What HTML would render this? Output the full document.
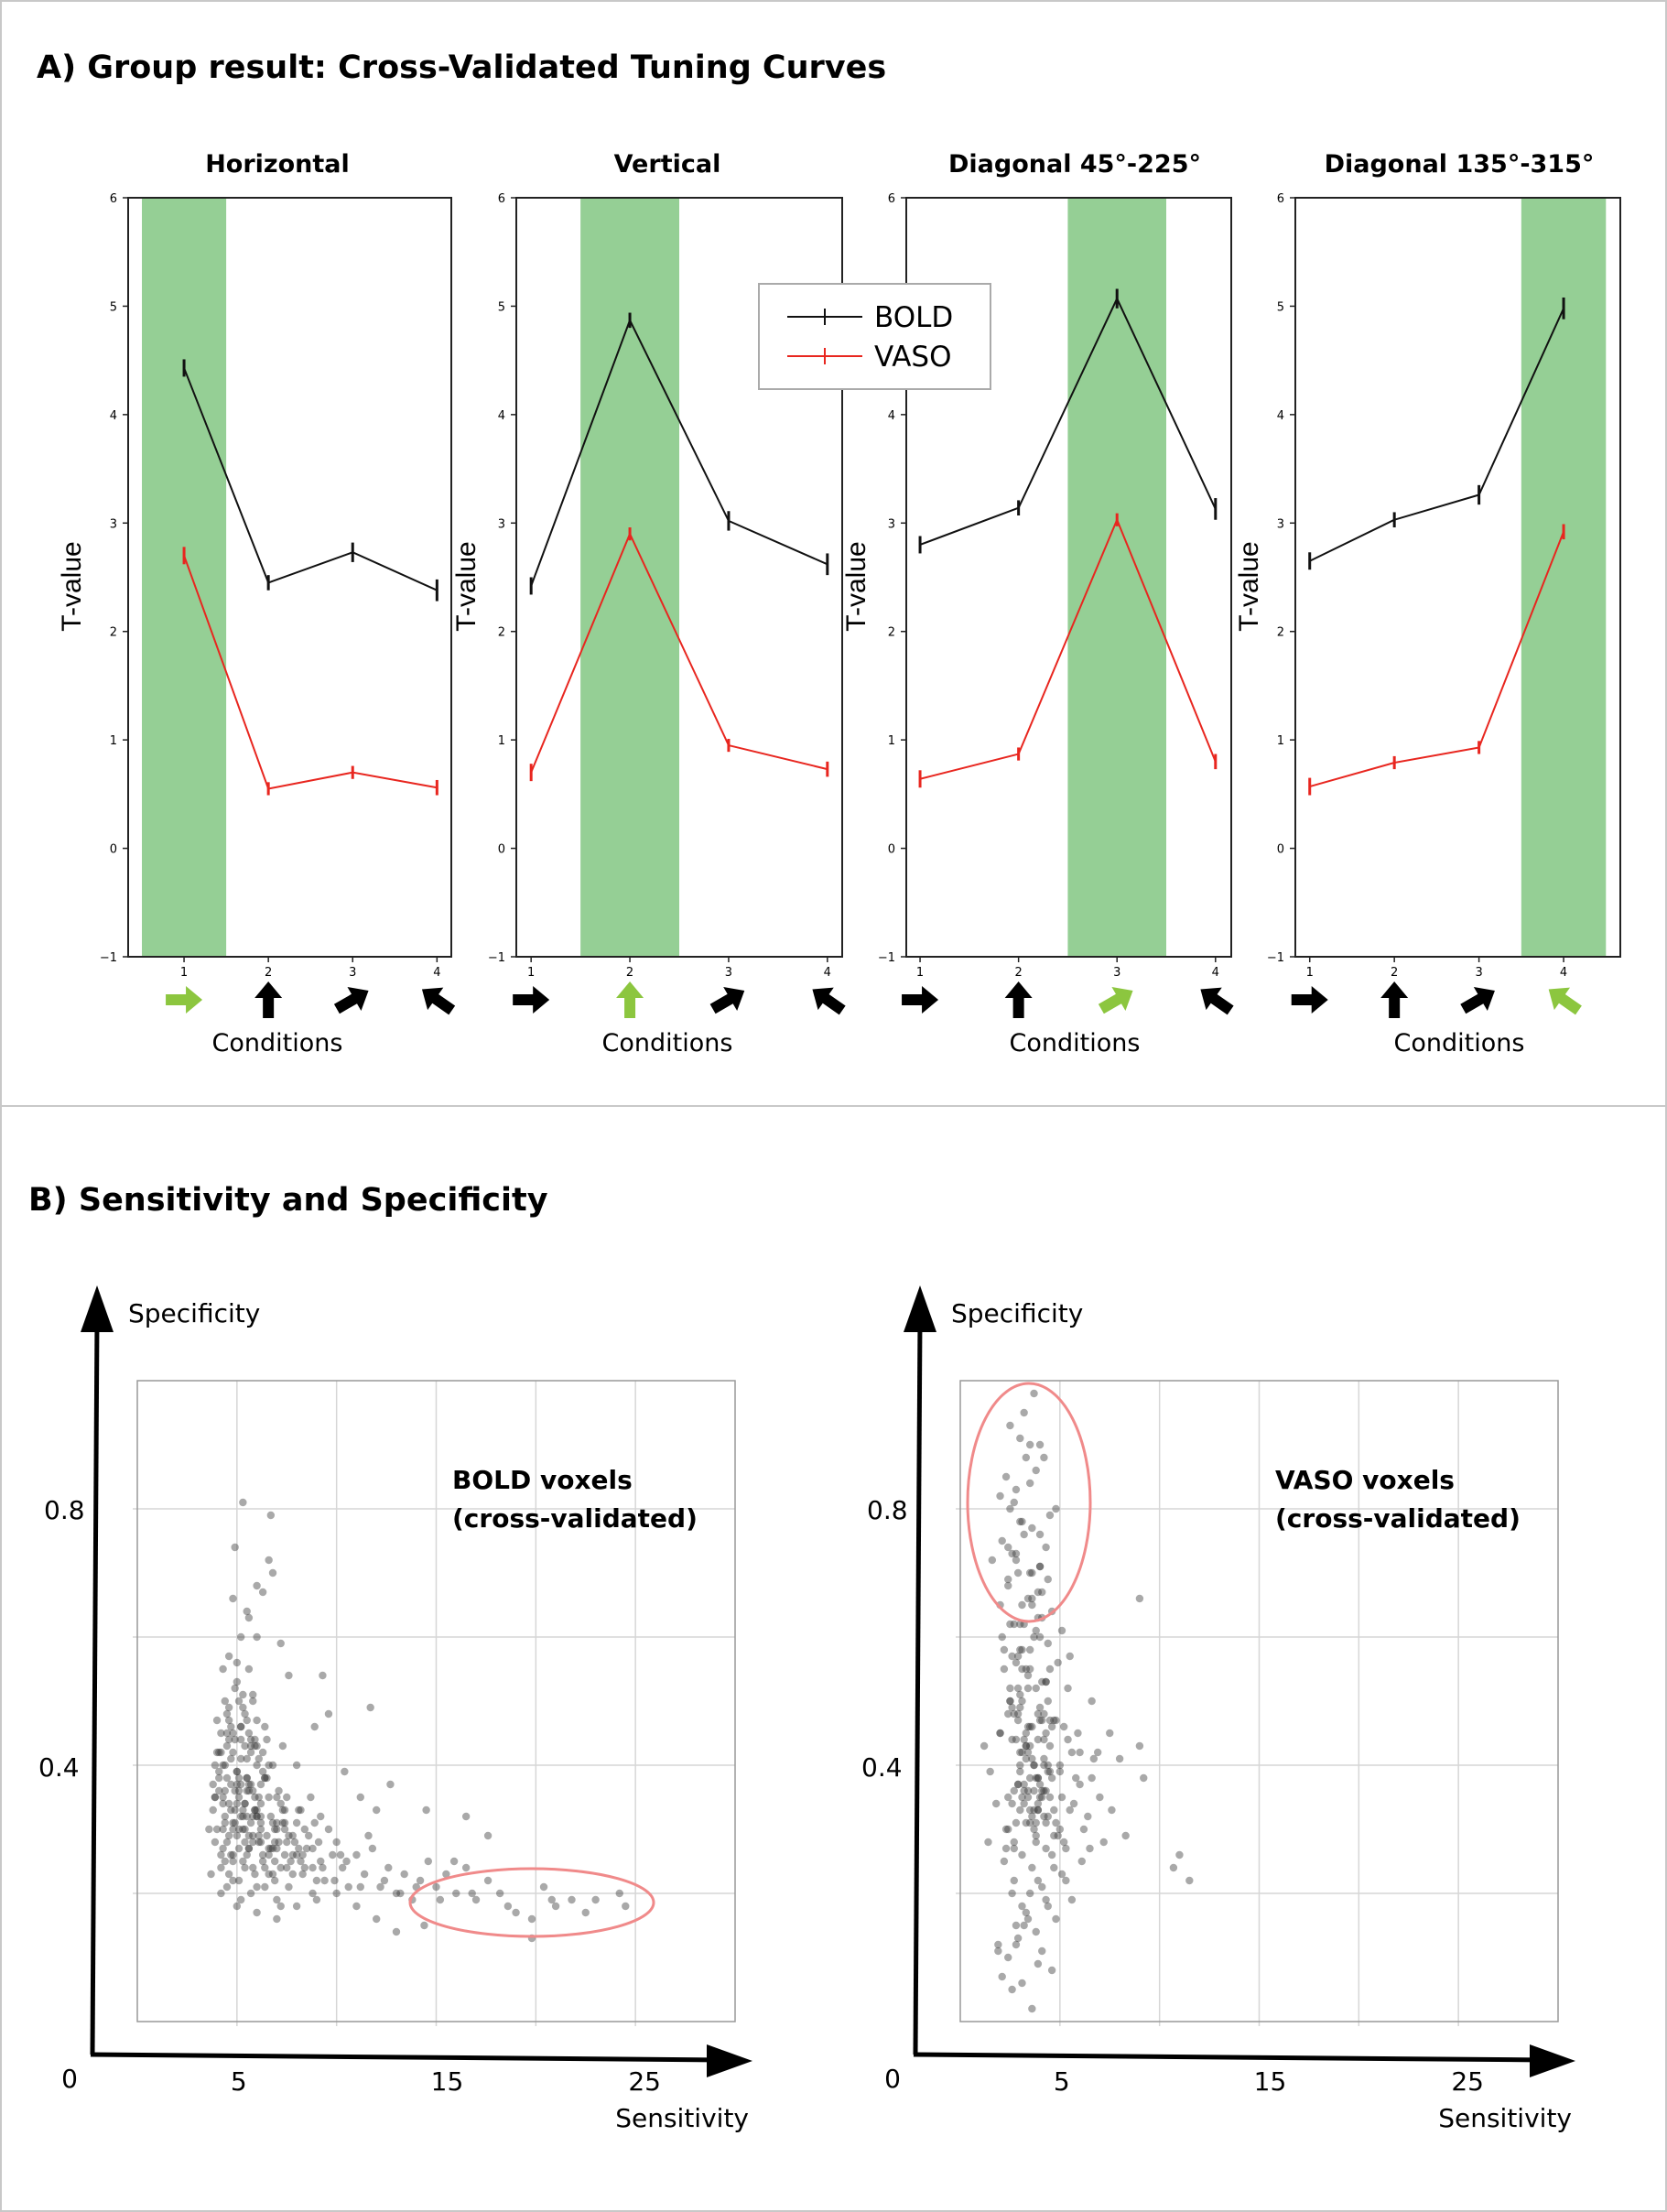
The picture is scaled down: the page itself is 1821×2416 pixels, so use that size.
<!DOCTYPE html>
<html><head><meta charset="utf-8">
<style>
html,body{margin:0;padding:0;background:#fff;}
svg{display:block;font-family:"DejaVu Sans","Liberation Sans",sans-serif;}
</style></head>
<body>
<svg id="fig" width="1821" height="2416" viewBox="0 0 1821 2416" xmlns="http://www.w3.org/2000/svg">
<rect x="1" y="1" width="1819" height="2414" fill="#fff" stroke="#c8c8c8" stroke-width="2"/>
<text x="40" y="85" font-size="35" font-weight="bold">A) Group result: Cross-Validated Tuning Curves</text>
<line x1="0" y1="1208" x2="1821" y2="1208" stroke="#c8c8c8" stroke-width="2"/>
<text x="31" y="1322" font-size="35" font-weight="bold">B) Sensitivity and Specificity</text>
<g id="tuning"></g>
<g id="scatters"></g>
</svg>
<script>
// ---- Tuning curve data ----
const panelTitles = ["Horizontal","Vertical","Diagonal 45°-225°","Diagonal 135°-315°"];
const conditions = [1,2,3,4];
const highlighted = [1,2,3,4];
const boldH = [4.43,2.45,2.73,2.38];
const boldV = [2.42,4.87,3.02,2.62];
const boldD45 = [2.80,3.14,5.07,3.13];
const boldD135 = [2.65,3.03,3.26,4.98];
const vasoH = [2.70,0.55,0.70,0.56];
const vasoV = [0.70,2.90,0.95,0.73];
const vasoD45 = [0.64,0.87,3.03,0.80];
const vasoD135 = [0.57,0.79,0.93,2.92];
const boldErr = [0.08,0.07,0.09,0.10];
const vasoErr = [0.08,0.06,0.06,0.07];
const yTicks = [-1,0,1,2,3,4,5,6];
const yTickLabels = ["−1","0","1","2","3","4","5","6"];
const xMins = [0.337,0.85,0.86,0.83];
const xMaxs = [4.17,4.15,4.16,4.67];
const arrowAngles = [0,-90,-30,-145];

const NS="http://www.w3.org/2000/svg";
function mk(tag,attrs,parent){const e=document.createElementNS(NS,tag);for(const k in attrs)e.setAttribute(k,attrs[k]);if(parent)parent.appendChild(e);return e;}

const panelLefts=[140,564,990,1415], panelRights=[493,920,1345,1770], PT=216, PB=1045;
const titleX=[303,729,1174,1594];
const ylabOff=[52,45,45,41];
const Y0=-1, Y1=6;
function xs(p,v){return panelLefts[p]+(v-xMins[p])/(xMaxs[p]-xMins[p])*(panelRights[p]-panelLefts[p]);}
function ys(v){return PB-(v-Y0)/(Y1-Y0)*(PB-PT);}

const tg=document.getElementById('tuning');
const bolds=[boldH,boldV,boldD45,boldD135], vasos=[vasoH,vasoV,vasoD45,vasoD135];
for(let p=0;p<4;p++){
  const g=mk('g',{},tg);
  
  
  const PW=panelRights[p]-panelLefts[p];
  const t=mk('text',{x:titleX[p],y:188,'text-anchor':'middle','font-size':27,'font-weight':'bold'},g);
  t.textContent=panelTitles[p];
  
  
  const h=highlighted[p];
  const band=mk('rect',{x:xs(p,h-0.5),y:PT,width:xs(p,h+0.5)-xs(p,h-0.5),height:PB-PT,fill:'#95cf95'},g);
  
  
  const fr=mk('rect',{x:panelLefts[p],y:PT,width:PW,height:PB-PT,fill:'none',stroke:'#222','stroke-width':2},g);
  
  
  yTicks.forEach((v,i)=>{
    mk('line',{x1:panelLefts[p]-6,x2:panelLefts[p],y1:ys(v),y2:ys(v),stroke:'#222','stroke-width':1.5},g);
    const l=mk('text',{x:panelLefts[p]-12,y:ys(v)+5,'text-anchor':'end','font-size':13},g);
    l.textContent=yTickLabels[i];
    
    
  });
  conditions.forEach(c=>{
    mk('line',{x1:xs(p,c),x2:xs(p,c),y1:PB,y2:PB+6,stroke:'#222','stroke-width':1.5},g);
    const l=mk('text',{x:xs(p,c),y:PB+21,'text-anchor':'middle','font-size':13},g);
    l.textContent=c;
    
    
    const ag=mk('g',{transform:`translate(${xs(p,c)},1092) rotate(${arrowAngles[c-1]})`},g);
    
    
    mk('path',{d:'M-20,-6 L2,-6 L2,-15 L20,0 L2,15 L2,6 L-20,6 Z',fill:c===h?'#8cc63f':'#000'},ag);
  });
  const yl=mk('text',{transform:`translate(${panelLefts[p]-ylabOff[p]},${(PT+PB)/2+10}) rotate(-90)`,'text-anchor':'middle','font-size':30,'font-family':'"Liberation Sans Narrow","Liberation Sans",sans-serif'},g);
  yl.textContent='T-value';
  
  
  const xl=mk('text',{x:titleX[p],y:1148,'text-anchor':'middle','font-size':27},g);
  xl.textContent='Conditions';
  
  
  [[bolds[p],'#111',boldErr,'bold'],[vasos[p],'#e8261f',vasoErr,'vaso']].forEach(([vals,col,err,nm])=>{
    const pl=mk('polyline',{points:vals.map((v,i)=>xs(p,conditions[i])+','+ys(v)).join(' '),fill:'none',stroke:col,'stroke-width':2},g);
    
    
    vals.forEach((v,i)=>{
      const eb=mk('line',{x1:xs(p,conditions[i]),x2:xs(p,conditions[i]),y1:ys(v+err[i]),y2:ys(v-err[i]),stroke:col,'stroke-width':3},g);
      
      
    });
  });
}
// legend
const lg=mk('g',{},tg);


mk('rect',{x:829,y:310,width:253,height:115,fill:'#fff',stroke:'#aaa','stroke-width':2},lg);
[['BOLD','#111',346],['VASO','#e8261f',389]].forEach(([n,c,y])=>{
  const e=mk('g',{},lg);
  
  
  mk('line',{x1:860,x2:942,y1:y,y2:y,stroke:c,'stroke-width':2},e);
  mk('line',{x1:901,x2:901,y1:y-9,y2:y+9,stroke:c,'stroke-width':2},e);
  const t=mk('text',{x:955,y:y+11,'font-size':31},e);t.textContent=n;
});

// ---- Scatter data (sensitivity, specificity) ----
const boldSens=[4.2,4.5,4.8,5.1,5.4,5.7,6.0,4.0,4.3,4.7,5.0,5.3,5.6,5.9,6.2,6.5,4.1,4.4,4.9,5.2,5.5,5.8,6.1,6.4,6.7,7.0,3.8,3.9,4.6,5.0,5.3,5.6,5.9,6.3,6.6,6.9,7.2,7.5,4.2,4.5,4.8,5.1,5.4,5.7,6.0,6.3,6.6,6.9,7.3,7.6,8.0,8.3,4.3,4.6,5.0,5.3,5.6,4.0,3.9,4.4,4.7,5.2,5.5,5.8,6.2,6.5,6.8,7.1,7.4,7.8,8.1,8.5,8.8,9.1,9.4,9.8,4.9,5.1,5.4,5.7,6.0,6.4,7.0,7.7,8.4,8.7,9.2,9.6,10.0,10.3,10.6,11.0,11.4,11.8,12.2,12.6,13.0,13.4,13.8,14.2,14.6,15.0,15.5,16.0,16.5,17.0,17.6,18.2,19.0,19.8,20.4,21.0,21.8,23.0,24.2,24.5,19.8,17.6,15.9,14.4,13.0,12.0,11.0,10.0,9.0,8.0,7.0,6.0,5.0,4.2,3.7,3.8,4.1,7.3,8.0,8.9,9.6,10.4,11.2,12.0,12.7,11.6,5.2,5.6,6.0,6.3,6.6,6.8,6.0,4.9,5.3,6.7,4.8,5.5,7.2,7.6,9.3,11.7,14.5,16.5,
4.4,4.6,4.9,5.2,5.5,5.8,6.1,4.1,4.5,4.8,5.1,5.4,5.7,6.0,6.3,6.8,7.1,7.4,4.3,4.6,5.0,5.3,5.6,5.9,6.2,6.6,7.0,7.5,7.9,8.2,8.6,9.0,4.5,4.8,5.2,5.5,5.8,4.2,4.6,5.0,5.4,5.8,6.2,6.6,7.0,7.4,7.8,8.3,8.8,9.3,9.9,10.5,11.2,12.4,13.2,14.0,15.2,16.8,18.6,20.8,22.5,3.6,3.9,4.3,4.7,5.1,5.5,5.9,6.4,6.9,7.5,8.1,8.9,10.2,4.0,4.4,4.8,5.2,5.6,6.0,4.4,4.8,5.2,5.6,6.0,6.4,6.8,7.2,4.6,5.0,5.4,5.8,6.2,
4.3,4.7,5.1,5.5,5.9,6.3,6.7,4.5,4.9,5.3,5.7,6.1,6.5,6.9,7.3,4.2,4.6,5.0,5.4,5.8,6.2,6.6,7.0,7.4,7.8,8.2,4.4,4.8,5.2,5.6,6.0,6.4,6.8,7.2,7.6,8.0,8.4,8.8,9.2,4.1,4.5,4.9,5.3,5.7,6.1,3.9,4.3,4.7,5.1,5.5,5.9];
const boldSpec=[.45,.38,.42,.35,.48,.31,.40,.30,.27,.33,.29,.25,.37,.44,.34,.29,.36,.50,.52,.46,.41,.36,.28,.38,.32,.27,.33,.40,.44,.39,.33,.27,.23,.25,.35,.30,.24,.28,.24,.21,.26,.22,.30,.43,.47,.42,.26,.22,.33,.21,.26,.23,.55,.57,.53,.51,.55,.47,.28,.32,.37,.41,.36,.32,.30,.44,.40,.36,.31,.29,.33,.27,.24,.28,.22,.26,.31,.27,.24,.20,.21,.21,.19,.25,.30,.35,.32,.30,.28,.24,.21,.26,.23,.27,.21,.24,.20,.23,.19,.22,.25,.21,.23,.20,.24,.19,.22,.20,.17,.16,.21,.18,.19,.19,.20,.18,.13,.29,.25,.15,.14,.16,.18,.20,.19,.18,.16,.17,.18,.20,.23,.37,.42,.43,.40,.46,.48,.39,.35,.33,.37,.29,.60,.63,.60,.67,.72,.70,.68,.74,.81,.79,.66,.64,.59,.54,.54,.49,.33,.32,
.40,.34,.44,.32,.38,.29,.35,.38,.43,.30,.36,.28,.42,.32,.26,.31,.28,.33,.34,.47,.39,.30,.45,.35,.32,.27,.31,.24,.28,.25,.29,.22,.28,.45,.37,.26,.50,.26,.23,.34,.43,.24,.37,.23,.30,.26,.23,.26,.20,.24,.22,.25,.21,.22,.20,.21,.19,.20,.18,.19,.17,.30,.35,.40,.46,.50,.38,.33,.46,.28,.35,.27,.31,.26,.42,.36,.31,.44,.29,.33,.25,.22,.19,.27,.32,.24,.23,.18,.49,.56,.34,.28,.31,
.35,.41,.30,.47,.33,.39,.27,.48,.36,.32,.44,.29,.38,.25,.31,.42,.29,.37,.34,.51,.28,.40,.35,.30,.26,.33,.31,.25,.46,.36,.43,.38,.27,.34,.29,.31,.24,.27,.25,.39,.45,.33,.49,.37,.41,.35,.30,.26,.38,.32,.43];
const vasoSens=[2.0,2.5,3.0,3.5,4.0,4.5,5.0,2.2,2.7,3.2,3.7,4.2,4.7,5.2,2.4,2.9,3.4,3.9,4.4,4.9,5.4,2.1,2.6,3.1,3.6,4.1,4.6,5.1,5.6,1.8,2.3,2.8,3.3,3.8,4.3,4.8,5.3,5.8,2.0,2.5,3.0,3.5,4.0,4.5,5.0,5.5,6.0,2.2,2.7,3.2,3.7,4.2,4.7,5.2,5.7,6.2,6.7,7.2,2.4,2.9,3.4,3.9,4.4,4.9,5.4,5.9,6.4,6.9,2.6,3.1,3.6,4.1,4.6,5.1,5.6,6.1,6.6,1.6,2.1,2.6,3.1,3.6,4.1,4.6,5.1,2.8,3.3,3.8,4.3,4.8,5.3,2.0,2.5,3.0,3.5,4.0,4.5,1.9,2.4,2.9,3.4,3.9,4.4,2.3,2.8,3.3,3.8,4.3,4.8,2.5,3.0,3.5,4.0,2.1,2.6,3.1,3.6,4.1,4.6,2.7,3.2,3.7,4.2,2.4,2.9,3.4,3.9,4.4,2.2,3.0,3.6,4.0,4.5,5.5,1.2,1.4,1.9,7.5,7.6,9.0,9.0,10.7,11.0,11.5,8.0,9.2,6.5,6.0,7.0,6.6,8.3,
2.6,3.0,3.4,3.8,4.2,2.8,3.2,3.6,4.0,4.4,2.5,2.9,3.3,3.7,4.1,4.5,3.1,3.5,3.9,4.3,2.7,3.1,3.5,3.9,2.3,2.7,3.1,3.5,3.9,4.3,4.7,3.0,3.4,3.8,4.2,4.6,2.6,3.0,3.4,3.8,4.2,2.9,3.3,3.7,4.1,2.4,2.8,3.2,3.6,4.0,4.4,3.5,3.9,3.2,2.8,5.0,1.5,2.0,2.4,3.8,4.3,4.8,3.0,3.3,
2.7,3.1,3.5,3.9,4.3,2.9,3.3,3.7,4.1,2.5,2.9,3.3,3.7,4.1,4.5,2.8,3.2,3.6,4.0,4.4,2.6,3.0,3.4,3.8,4.2,3.1,3.5,3.9,2.7,3.1,3.5,3.9,4.3,4.7,2.4,2.8,3.2,3.6,4.0];
const vasoSpec=[.45,.50,.42,.38,.47,.35,.40,.55,.48,.44,.36,.41,.33,.46,.30,.37,.52,.33,.39,.29,.44,.60,.57,.50,.46,.53,.38,.35,.42,.34,.27,.31,.43,.28,.36,.31,.27,.38,.65,.62,.58,.55,.49,.47,.30,.33,.37,.25,.22,.36,.40,.32,.24,.28,.34,.30,.41,.28,.68,.70,.66,.63,.59,.56,.52,.45,.32,.42,.20,.18,.24,.21,.26,.23,.19,.25,.38,.72,.75,.73,.78,.70,.67,.64,.61,.15,.17,.14,.19,.16,.22,.82,.80,.78,.84,.76,.79,.12,.10,.13,.16,.09,.18,.85,.83,.88,.86,.74,.80,.93,.91,.90,.90,.07,.05,.06,.02,.11,.08,.81,.95,.98,.88,.48,.52,.54,.44,.50,.58,.62,.65,.60,.55,.57,.43,.28,.11,.45,.33,.66,.43,.24,.26,.22,.41,.38,.27,.42,.35,.50,.29,
.34,.39,.35,.31,.36,.44,.37,.32,.35,.40,.50,.47,.41,.33,.36,.43,.55,.58,.48,.53,.62,.65,.70,.67,.30,.28,.26,.31,.34,.27,.29,.40,.42,.38,.44,.46,.49,.51,.46,.52,.48,.57,.55,.60,.63,.74,.72,.76,.77,.71,.69,.20,.22,.15,.12,.39,.39,.45,.35,.61,.53,.47,.33,.45,
.36,.42,.33,.38,.45,.48,.31,.40,.35,.52,.37,.43,.30,.47,.39,.56,.34,.41,.37,.32,.44,.49,.36,.29,.40,.58,.46,.33,.27,.35,.43,.38,.31,.47,.69,.73,.62,.66,.71];

const SX0=0,SX1=30,SY0=0,SY1=1;
const scatterSpecs=[
 {off:0,name:'bold',sens:boldSens,spec:boldSpec,label:['BOLD voxels','(cross-validated)'],ell:[581,2078,133,37]},
 {off:899,name:'vaso',sens:vasoSens,spec:vasoSpec,label:['VASO voxels','(cross-validated)'],ell:[1124,1641,67,130]}
];
const BL=150,BR=803,BT=1508,BB=2208;
function sx(off,v){return off+BL+(v-SX0)/(SX1-SX0)*(BR-BL);}
function sy(v){return BB-(v-SY0)/(SY1-SY0)*(BB-BT);}
const xGrid=[5,10,15,20,25], yGrid=[0.2,0.4,0.6,0.8];
const sg=document.getElementById('scatters');
scatterSpecs.forEach(s=>{
  const g=mk('g',{},sg);
  
  
  const o=s.off;
  xGrid.forEach(v=>{const l=mk('line',{x1:sx(o,v),x2:sx(o,v),y1:BT,y2:BB+5,stroke:'#d6d6d6','stroke-width':1.5},g);
    
    });
  yGrid.forEach(v=>{const l=mk('line',{x1:o+BL-5,x2:o+BR,y1:sy(v),y2:sy(v),stroke:'#d6d6d6','stroke-width':1.5},g);
    
    });
  const fr=mk('rect',{x:o+BL,y:BT,width:BR-BL,height:BB-BT,fill:'none',stroke:'#999','stroke-width':1.5},g);
  
  
  s.sens.forEach((v,i)=>{
    const c=mk('circle',{cx:sx(o,v),cy:sy(s.spec[i]),r:4.2,fill:'#333','fill-opacity':0.42},g);
    
    
  });
  const e=mk('ellipse',{cx:s.ell[0],cy:s.ell[1],rx:s.ell[2],ry:s.ell[3],fill:'none',stroke:'#f08a8a','stroke-width':3},g);
  
  
  const an=mk('text',{x:o+494,y:1626,'font-size':28,'font-weight':'bold'},g);
  
  
  s.label.forEach((t,i)=>{const ts=mk('tspan',{x:o+494,dy:i?42:0},an);ts.textContent=t;});
  // big axes
  mk('path',{d:`M${o+101},2244 L${o+106},1440`,stroke:'#000','stroke-width':5,fill:'none'},g);
  const ah=mk('path',{d:`M${o+106},1404 L${o+124},1455 L${o+88},1455 Z`,fill:'#000'},g);
  
  
  mk('path',{d:`M${o+99},2244 L${o+790},2250`,stroke:'#000','stroke-width':5,fill:'none'},g);
  const ax=mk('path',{d:`M${o+822},2251 L${o+772},2233 L${o+772},2269 Z`,fill:'#000'},g);
  
  
  const texts=[['Specificity',o+140,1444,'start','y-axis-title'],['Sensitivity',o+818,2323,'end','x-axis-title'],
    ['0.8',o+48,1659,'start','y-label-0.8'],['0.4',o+42,1940,'start','y-label-0.4'],['0',o+76,2280,'middle','origin-label'],
    ['5',sx(o,5)+2,2283,'middle','x-label-5'],['15',sx(o,15)+12,2283,'middle','x-label-15'],['25',sx(o,25)+10,2283,'middle','x-label-25']];
  texts.forEach(([t,x,y,a,n])=>{const el=mk('text',{x:x,y:y,'text-anchor':a,'font-size':28},g);el.textContent=t;
    
    });
});
</script>
</body></html>
